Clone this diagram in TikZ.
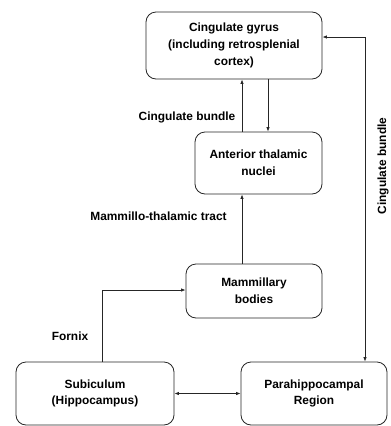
\documentclass[tikz,border=0pt]{standalone}
\usepackage{fontspec}
\setmainfont{Liberation Sans}
\usetikzlibrary{arrows.meta}
\begin{document}
\begin{tikzpicture}[x=1pt,y=-1pt,
  box/.style={draw=black!85,line width=0.8pt,rounded corners=10pt,align=center,
    font=\fontsize{11.9}{16.7}\selectfont\bfseries,inner sep=0pt},
  lbl/.style={font=\fontsize{11.9}{14}\selectfont\bfseries,inner sep=0pt},
  conn/.style={draw=black!85,line width=0.8pt,-{Latex[length=4.5pt,width=3.5pt]}},
  dconn/.style={draw=black!85,line width=0.8pt,{Latex[length=4.5pt,width=3.5pt]}-{Latex[length=4.5pt,width=3.5pt]}}]
\useasboundingbox (0,0) rectangle (391,426);
\node[box,minimum width=176pt,minimum height=67pt] (cg) at (234,45.5) {Cingulate gyrus\\(including retrosplenial\\cortex)};
\node[box,minimum width=127pt,minimum height=62pt] (atn) at (258.5,163) {Anterior thalamic\\nuclei};
\node[box,minimum width=136pt,minimum height=54pt] (mb) at (254,291) {Mammillary\\bodies};
\node[box,minimum width=158pt,minimum height=63pt] (sub) at (95,393.5) {Subiculum\\(Hippocampus)};
\node[box,minimum width=146pt,minimum height=63pt] (ph) at (314,393.5) {Parahippocampal\\Region};
% labels
\node[lbl] (l1) at (187,117) {Cingulate bundle};
\node[lbl] (l2) at (158.5,216) {Mammillo-thalamic tract};
\node[lbl] (l3) at (70,336) {Fornix};
\node[lbl,rotate=90] (l4) at (383,166) {Cingulate bundle};
% connectors
\draw[conn] (atn.north -| 242,0) -- (cg.south -| 242,0);
\draw[conn] (cg.south -| 268,0) -- (atn.north -| 268,0);
\draw[conn] (mb.north -| 242,0) -- (atn.south -| 242,0);
\coordinate (fx) at (102,290);
\draw[conn] (sub.north -| fx) -- (fx) -- (mb.west |- fx);
\coordinate (cbt) at (365,37);
\draw[dconn] (ph.north -| cbt) -- (cbt) -- (cg.east |- cbt);
\draw[dconn] (sub.east) -- (ph.west);
\end{tikzpicture}
\end{document}
